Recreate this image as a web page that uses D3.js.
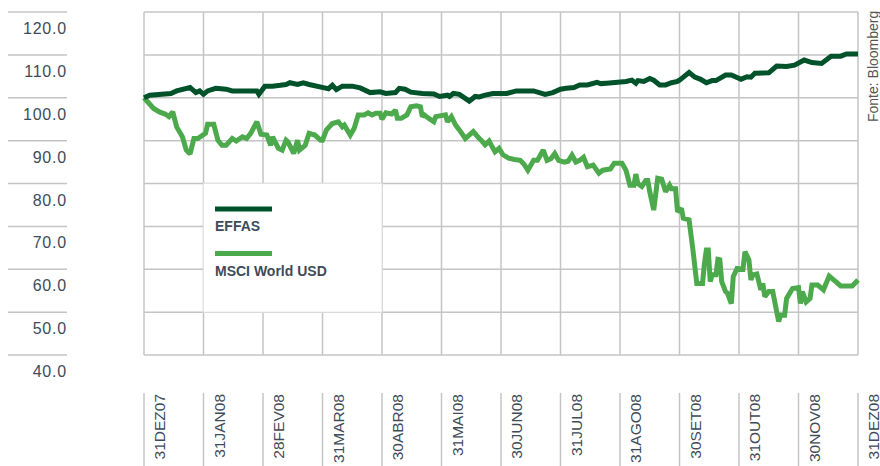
<!DOCTYPE html>
<html>
<head>
<meta charset="utf-8">
<script src="https://cdn.jsdelivr.net/npm/d3@7/dist/d3.min.js"></script>
<style>
  html, body { margin: 0; padding: 0; background: #ffffff; }
  svg { display: block; }
</style>
</head>
<body>
<svg id="chart" width="880" height="466"></svg>
<script>
// ---------------- DATA ----------------
const xTickLabels = ["31DEZ07","31JAN08","28FEV08","31MAR08","30ABR08","31MAI08","30JUN08",
                     "31JUL08","31AGO08","30SET08","31OUT08","30NOV08","31DEZ08"];
const yTicks = [120, 110, 100, 90, 80, 70, 60, 50, 40];
const seriesNames = ["EFFAS", "MSCI World USD"];
const sourceText = "Fonte: Bloomberg";

const effasDates = ["2007-12-31","2008-01-03","2008-01-14","2008-01-17","2008-01-24","2008-01-27","2008-01-29","2008-01-31",
  "2008-02-02","2008-02-06","2008-02-11","2008-02-14","2008-02-26","2008-02-27","2008-03-01","2008-03-05","2008-03-09",
  "2008-03-12","2008-03-14","2008-03-18","2008-03-21","2008-03-24","2008-04-01","2008-04-03","2008-04-05","2008-04-07",
  "2008-04-10","2008-04-15","2008-04-19","2008-04-24","2008-04-29","2008-05-02","2008-05-07","2008-05-09","2008-05-12",
  "2008-05-15","2008-05-21","2008-05-27","2008-05-30","2008-06-03","2008-06-04","2008-06-06","2008-06-09","2008-06-14",
  "2008-06-17","2008-06-19","2008-06-22","2008-06-26","2008-07-03","2008-07-08","2008-07-17","2008-07-23","2008-07-27",
  "2008-07-31","2008-08-03","2008-08-07","2008-08-10","2008-08-14","2008-08-19","2008-08-21","2008-08-24","2008-09-03",
  "2008-09-06","2008-09-08","2008-09-09","2008-09-12","2008-09-15","2008-09-17","2008-09-20","2008-09-23","2008-09-26",
  "2008-09-29","2008-09-30","2008-10-02","2008-10-05","2008-10-08","2008-10-11","2008-10-14","2008-10-17","2008-10-19",
  "2008-10-24","2008-10-27","2008-11-01","2008-11-04","2008-11-06","2008-11-08","2008-11-15","2008-11-19","2008-11-24",
  "2008-11-28","2008-12-03","2008-12-07","2008-12-12","2008-12-17","2008-12-22","2008-12-25","2008-12-31"];
const effasValues = [100.0,100.6,101.0,101.6,102.4,101.2,101.6,100.8,
  101.6,102.2,102.0,101.6,101.6,100.8,102.7,102.7,102.9,
  103.1,103.5,103.1,103.5,103.1,102.3,102.1,102.9,101.9,
  102.7,102.7,102.3,101.2,101.4,101.0,101.2,102.2,102.0,
  101.3,101.0,100.9,100.3,100.6,100.3,101.0,100.8,99.2,
  100.3,100.2,100.6,101.0,101.0,101.6,101.6,100.8,101.2,
  102.0,102.2,102.4,103.0,103.0,103.6,103.3,103.4,103.8,
  104.1,103.4,104.0,103.8,104.5,104.1,103.0,103.0,103.5,
  103.8,104.1,104.8,105.9,104.8,104.3,103.5,104.0,104.0,
  105.3,105.3,104.3,104.9,104.8,105.7,105.8,107.4,107.3,
  107.6,108.8,108.2,108.0,109.7,109.7,110.2,110.2];

const msciDates = ["2007-12-31","2008-01-05","2008-01-08","2008-01-11","2008-01-13","2008-01-15","2008-01-17","2008-01-20",
  "2008-01-21","2008-01-22","2008-01-24","2008-01-26","2008-01-28","2008-02-01","2008-02-02","2008-02-05","2008-02-07",
  "2008-02-09","2008-02-11","2008-02-14","2008-02-16","2008-02-19","2008-02-21","2008-02-23","2008-02-26","2008-02-28",
  "2008-03-02","2008-03-04","2008-03-05","2008-03-08","2008-03-10","2008-03-12","2008-03-13","2008-03-16","2008-03-18",
  "2008-03-19","2008-03-22","2008-03-24","2008-03-27","2008-03-30","2008-03-31","2008-04-02","2008-04-05","2008-04-08",
  "2008-04-10","2008-04-11","2008-04-14","2008-04-16","2008-04-18","2008-04-21","2008-04-23","2008-04-25","2008-04-27",
  "2008-04-29","2008-04-30","2008-05-02","2008-05-05","2008-05-07","2008-05-08","2008-05-10","2008-05-13","2008-05-15",
  "2008-05-18","2008-05-20","2008-05-21","2008-05-22","2008-05-25","2008-05-27","2008-05-28","2008-06-02","2008-06-03",
  "2008-06-05","2008-06-07","2008-06-09","2008-06-12","2008-06-14","2008-06-16","2008-06-19","2008-06-20","2008-06-22",
  "2008-06-24","2008-06-25","2008-06-27","2008-06-29","2008-07-01","2008-07-04","2008-07-07","2008-07-10","2008-07-12",
  "2008-07-14","2008-07-17","2008-07-19","2008-07-22","2008-07-24","2008-07-26","2008-07-28","2008-07-30","2008-08-02",
  "2008-08-04","2008-08-06","2008-08-08","2008-08-10","2008-08-12","2008-08-14","2008-08-17","2008-08-20","2008-08-22",
  "2008-08-26","2008-08-28","2008-09-01","2008-09-03","2008-09-05","2008-09-07","2008-09-08","2008-09-09","2008-09-11",
  "2008-09-13","2008-09-14","2008-09-15","2008-09-17","2008-09-19","2008-09-21","2008-09-23","2008-09-25","2008-09-26",
  "2008-09-28","2008-09-29","2008-10-01","2008-10-02","2008-10-05","2008-10-06","2008-10-07","2008-10-08","2008-10-09",
  "2008-10-12","2008-10-13","2008-10-14","2008-10-15","2008-10-16","2008-10-17","2008-10-19","2008-10-20","2008-10-21",
  "2008-10-22","2008-10-24","2008-10-25","2008-10-27","2008-10-28","2008-10-30","2008-11-02","2008-11-03","2008-11-05",
  "2008-11-06","2008-11-07","2008-11-09","2008-11-11","2008-11-12","2008-11-13","2008-11-15","2008-11-17","2008-11-20",
  "2008-11-21","2008-11-23","2008-11-24","2008-11-27","2008-11-30","2008-12-01","2008-12-02","2008-12-04","2008-12-06",
  "2008-12-07","2008-12-10","2008-12-13","2008-12-16","2008-12-20","2008-12-22","2008-12-28","2008-12-31"];
const msciValues = [100.0,97.5,96.7,96.2,95.6,96.7,93.2,90.9,
  89.4,87.8,86.9,90.5,90.5,91.7,93.8,93.8,90.1,
  88.9,88.9,90.5,89.9,90.9,90.5,91.7,94.4,91.5,
  91.3,88.9,90.9,88.2,87.8,90.1,89.7,87.0,90.1,
  87.8,88.9,91.7,91.3,90.1,90.1,92.5,94.0,94.4,
  93.2,93.6,91.3,92.9,96.0,96.0,96.5,96.0,96.4,
  96.4,95.0,96.5,96.2,97.1,95.2,95.2,96.0,97.9,
  98.1,97.9,95.6,96.0,95.0,94.4,95.6,96.0,94.4,
  95.6,93.7,92.5,90.5,91.3,92.1,90.5,90.1,89.0,
  89.9,89.0,87.4,88.2,86.7,85.9,85.6,85.4,84.5,
  83.1,85.4,85.4,87.8,85.4,85.8,87.0,85.4,85.0,
  85.2,86.6,85.0,85.4,86.1,83.9,84.3,82.4,83.1,
  83.4,84.7,84.7,83.1,79.6,79.6,82.2,80.0,79.3,
  80.7,80.7,78.1,73.8,81.2,81.0,78.1,79.6,78.8,
  78.8,73.4,74.2,71.9,71.5,68.0,64.5,60.6,56.7,
  56.7,61.4,64.5,64.5,57.1,58.7,58.7,62.3,62.2,
  57.1,54.8,54.4,52.0,58.3,60.2,60.0,64.1,62.2,
  57.5,58.7,58.9,55.2,56.7,53.6,54.8,54.8,47.8,
  49.3,49.3,53.2,55.5,55.7,52.0,54.8,52.4,53.2,
  56.3,56.3,55.2,58.4,56.9,56.1,56.1,57.5];

// ---------------- HELPERS ----------------
// Month-based position: each month occupies the same width on the axis.
function monthPos(s) {
  const [yy, mm, dd] = s.split("-").map(Number);
  if (yy === 2007) return (dd - 31) / 31;
  const dim = new Date(Date.UTC(yy, mm, 0)).getUTCDate();
  return (mm - 1) + dd / dim;
}

const colors = { effas: "#00522a", msci: "#4caa4c", grid: "#c4c4c4", text: "#3e4b59" };

const svg = d3.select("#chart");
const x = d3.scaleLinear().domain([0, 12]).range([144, 858]);
const y = d3.scaleLinear().domain([40, 120]).range([355, 12]);

// ---------------- LEFT Y LABELS ----------------
const yl = svg.append("g");
yl.selectAll("line").data(yTicks).join("line")
  .attr("x1", 8).attr("x2", 67)
  .attr("y1", d => y(d)).attr("y2", d => y(d))
  .attr("stroke", colors.grid).attr("stroke-width", 1.5);
yl.selectAll("text").data(yTicks).join("text")
  .attr("x", 67).attr("y", d => y(d) + 22)
  .attr("text-anchor", "end")
  .attr("font-family", "'Liberation Sans', Arial, sans-serif")
  .attr("font-size", 16).attr("letter-spacing", 0.8)
  .attr("fill", colors.text)
  .text(d => d3.format(".1f")(d));

// ---------------- GRID ----------------
const grid = svg.append("g");
grid.selectAll("line.h").data(yTicks).join("line").attr("class", "h")
  .attr("x1", x(0)).attr("x2", x(12))
  .attr("y1", d => y(d)).attr("y2", d => y(d))
  .attr("stroke", colors.grid).attr("stroke-width", 1.5);
grid.selectAll("line.v").data(xTickLabels).join("line").attr("class", "v")
  .attr("x1", (d, i) => x(i)).attr("x2", (d, i) => x(i))
  .attr("y1", y(120)).attr("y2", y(40))
  .attr("stroke", colors.grid).attr("stroke-width", 1.5);

// ---------------- X LABELS ----------------
const xl = svg.append("g");
xl.selectAll("line").data(xTickLabels).join("line")
  .attr("x1", (d, i) => x(i)).attr("x2", (d, i) => x(i))
  .attr("y1", 393).attr("y2", 466)
  .attr("stroke", colors.grid).attr("stroke-width", 1.5);
xl.selectAll("text").data(xTickLabels).join("text")
  .attr("transform", (d, i) => `translate(${x(i) + 21},394) rotate(-90)`)
  .attr("text-anchor", "end")
  .attr("font-family", "'Liberation Sans', Arial, sans-serif")
  .attr("font-size", 15.5)
  .attr("fill", colors.text)
  .text(d => d);

// ---------------- LINES ----------------
const line = d3.line().x(d => x(monthPos(d[0]))).y(d => y(d[1]));
const msci = d3.zip(msciDates, msciValues);
const effas = d3.zip(effasDates, effasValues);

svg.append("path").datum(msci)
  .attr("d", line).attr("fill", "none")
  .attr("stroke", colors.msci).attr("stroke-width", 5)
  .attr("stroke-linejoin", "miter").attr("stroke-miterlimit", 2);
svg.append("path").datum(effas)
  .attr("d", line).attr("fill", "none")
  .attr("stroke", colors.effas).attr("stroke-width", 5)
  .attr("stroke-linejoin", "miter").attr("stroke-miterlimit", 2);

// ---------------- LEGEND ----------------
const lg = svg.append("g");
lg.append("rect")
  .attr("x", x(1)).attr("y", y(80))
  .attr("width", x(4) - x(1)).attr("height", y(50) - y(80))
  .attr("fill", "#ffffff").attr("stroke", "#e4e4e4").attr("stroke-width", 1);
const legendItems = [
  { name: seriesNames[0], color: colors.effas },
  { name: seriesNames[1], color: colors.msci }
];
legendItems.forEach((it, i) => {
  const top = 209 + i * 44.5;
  lg.append("line")
    .attr("x1", 215).attr("x2", 272)
    .attr("y1", top).attr("y2", top)
    .attr("stroke", it.color).attr("stroke-width", 5);
  lg.append("text")
    .attr("x", 215).attr("y", top + 22)
    .attr("font-family", "'Liberation Sans', Arial, sans-serif")
    .attr("font-size", 14).attr("font-weight", "bold")
    .attr("fill", colors.text)
    .text(it.name);
});

// ---------------- SOURCE ----------------
svg.append("text")
  .attr("transform", "translate(878,122) rotate(-90)")
  .attr("text-anchor", "start")
  .attr("font-family", "'Liberation Sans', Arial, sans-serif")
  .attr("font-size", 14)
  .attr("fill", "#555555")
  .text(sourceText);
</script>
</body>
</html>
